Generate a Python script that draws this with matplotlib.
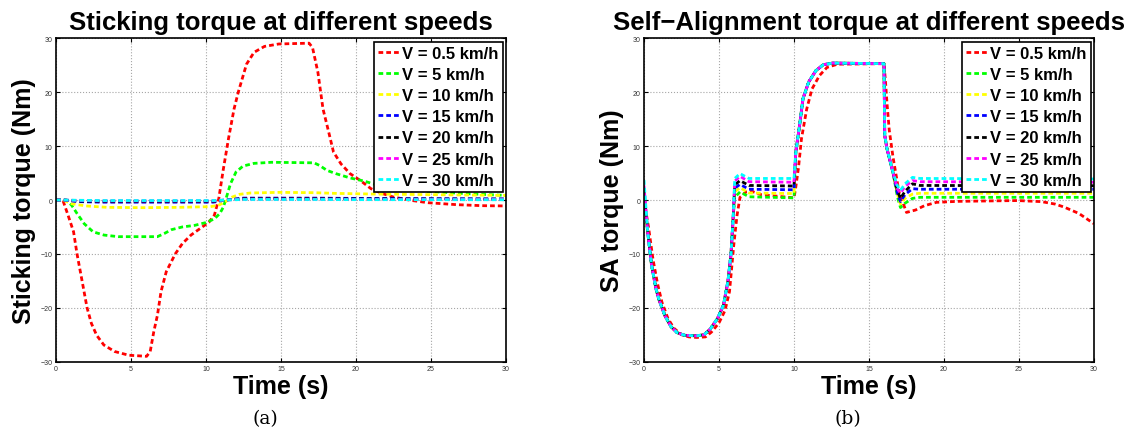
import numpy as np
import matplotlib.pyplot as plt

plt.rcParams['font.family'] = ['Liberation Sans', 'DejaVu Sans']

labels = ['V = 0.5 km/h', 'V = 5 km/h', 'V = 10 km/h', 'V = 15 km/h',
          'V = 20 km/h', 'V = 25 km/h', 'V = 30 km/h']
colors = ['#ff0000', '#00ff00', '#ffff00', '#0000ff', '#000000', '#ff00ff', '#00ffff']

# ---- (a) sticking torque ----
t_st_red = [0, 0.45, 0.8, 1.17, 1.4, 1.71, 2.07, 2.36, 2.71, 3.19, 3.9, 4.85, 6.04, 6.28,
            6.52, 6.76, 7.0, 7.35, 7.95, 8.42, 9.0, 9.6, 10.2, 10.56, 10.85, 11.16, 11.5,
            11.87, 12.15, 12.7, 13.2, 13.9, 14.85, 16.87, 17.1, 17.46, 17.8, 18.18, 18.5,
            19.0, 19.6, 20.3, 21.0, 21.75, 22.5, 23.65, 24.8, 26.7, 28.4, 30]
st_red = [0, 0, -2.8, -5.9, -10, -14.6, -20, -22.9, -25.1, -26.9, -28.1, -28.8, -29.0, -28.1,
          -24.4, -21.4, -17, -13.3, -10, -8.1, -6.5, -5.3, -4.1, -2.8, 0.25, 5.8, 11.4,
          16.9, 20.0, 25.2, 27.4, 28.5, 28.95, 29.1, 28.3, 23.7, 16.9, 12.6, 8.9,
          6.7, 4.9, 3.6, 2.1, 1.2, 0.55, -0.06, -0.5, -0.86, -1.05, -1.1]

t_st_green = [0, 0.7, 1.05, 1.4, 1.88, 2.47, 3.19, 4.14, 6.76, 7.23, 7.7, 8.42, 9.25, 9.97,
              10.56, 10.92, 11.16, 11.4, 11.63, 12.0, 12.47, 13.2, 14.37, 17.2, 17.58, 18.06,
              18.65, 19.6, 20.56, 21.5, 22.9, 24.84, 27.2, 30]
st_green = [0, 0, -1.0, -2.5, -4.4, -5.9, -6.5, -6.8, -6.8, -6.2, -5.5, -5.0, -4.7, -4.2,
            -3.5, -2.5, -1.3, 0.86, 3.0, 5.2, 6.3, 6.8, 7.0, 6.9, 6.4, 5.5,
            4.9, 4.1, 3.5, 2.7, 2.1, 1.6, 1.2, 0.86]

t_st_yellow = [0, 0.45, 1.05, 2.0, 3.4, 5.8, 8.2, 10.3, 10.8, 11.28, 11.75, 12.23, 12.94,
               14.85, 17.2, 18.65, 21.3, 24.84, 30]
st_yellow = [0, 0, -0.7, -1.1, -1.36, -1.42, -1.36, -1.23, -1.0, -0.37, 0.55, 1.05, 1.3,
             1.42, 1.36, 1.23, 1.1, 1.0, 0.86]

t_st_small = [0, 0.5, 1.5, 3, 10.5, 11.3, 12.5, 17, 20, 30]
st_blue = [0, 0, -0.3, -0.4, -0.4, 0, 0.35, 0.35, 0.3, 0.2]
st_black = [0, 0, -0.2, -0.25, -0.25, 0, 0.25, 0.25, 0.2, 0.15]
st_magenta = [0, 0, -0.1, -0.15, -0.15, 0, 0.15, 0.15, 0.12, 0.1]
st_cyan = [0, 0, -0.05, -0.1, -0.1, 0, 0.1, 0.1, 0.07, 0.05]

sticking = [(t_st_red, st_red), (t_st_green, st_green), (t_st_yellow, st_yellow),
            (t_st_small, st_blue), (t_st_small, st_black), (t_st_small, st_magenta),
            (t_st_small, st_cyan)]

# ---- (b) self-alignment torque ----
t_sa_red = [0, 0.3, 0.6, 0.9, 1.2, 1.6, 2.0, 2.5, 3.0, 3.5, 4.1, 4.5, 5.0, 5.4, 5.7, 5.98,
            6.2, 6.4, 6.8, 7.2, 7.8, 10.0, 10.1, 10.3, 10.5, 10.85, 11.2, 11.7, 12.2, 12.9,
            16.0, 16.1, 16.2, 16.35, 16.6, 17.0, 17.5, 18.1, 18.7, 19.5, 20.9, 24.9, 26.5,
            27.4, 28.0, 29.0, 30]
sa_red = [0, -5, -11, -15.5, -19, -22, -23.8, -25.0, -25.4, -25.5, -25.4, -24.5, -22.8,
          -20.5, -17, -8.5, -2.9, 0.5, 1.5, 1.6, 1.0, 0.4, 2.0, 6.0, 11.4, 16.9, 20.6, 23.1,
          24.6, 25.2, 25.3, 22, 18, 13, 8, 1.5, -2.3, -1.86, -1.05, -0.43, -0.25, -0.1,
          -0.3, -0.75, -1.3, -2.5, -4.4]

t_sa = [0, 0.25, 0.5, 0.8, 1.0, 1.4, 1.8, 2.2, 2.7, 3.5, 4.0, 4.4, 4.9, 5.3, 5.6, 5.8, 5.95,
        6.05, 6.4, 7.0, 10.0, 10.12, 10.37, 10.6, 10.98, 11.46, 11.95, 12.56, 16.0, 16.05,
        16.2, 16.6, 16.9, 17.1, 17.4, 17.9, 18.4, 30]
sa_dive = [-6, -12, -16.5, -18.5, -21.5, -23.5, -24.6, -25.1, -25.2, -25.0, -24.0, -22.0,
           -19.5, -15.0, -10.0, -3.0]
sa_rise = [8.9, 13.8, 18.8, 21.9, 24.0, 25.1, 25.4, 25.3, 12.0, 9.5, 5.1]
sa_green = [-0.5] + sa_dive + [0.5, 1.5, 0.6, 0.4] + sa_rise + [0.5, -1.4, -0.6, 0.3, 0.5, 0.5]
sa_yellow = [0.3] + sa_dive + [1.5, 2.3, 1.3, 1.2] + sa_rise + [1.0, -0.75, 0.3, 1.1, 1.25, 1.25]
sa_blue = [1.0] + sa_dive + [2.2, 2.9, 2.0, 1.9] + sa_rise + [1.2, -0.3, 1.0, 2.1, 2.0, 2.0]
sa_black = [1.8] + sa_dive + [2.8, 3.6, 2.7, 2.6] + sa_rise + [1.6, 0.3, 1.6, 3.0, 2.7, 2.65]
sa_magenta = [2.7] + sa_dive + [3.5, 4.4, 3.4, 3.3] + sa_rise + [2.0, 1.3, 2.5, 3.6, 3.4, 3.3]
sa_cyan = [3.7] + sa_dive + [4.0, 4.9, 4.0, 4.0] + sa_rise + [2.6, 1.8, 3.0, 4.2, 4.0, 3.9]

aligning = [(t_sa_red, sa_red), (t_sa, sa_green), (t_sa, sa_yellow), (t_sa, sa_blue),
            (t_sa, sa_black), (t_sa, sa_magenta), (t_sa, sa_cyan)]

fig = plt.figure(figsize=(11.34, 4.35), dpi=100)
ax1 = fig.add_axes([0.0494, 0.1662, 0.3968, 0.7434])
ax2 = fig.add_axes([0.5679, 0.1662, 0.3968, 0.7434])

panels = [
    (ax1, sticking, 'Sticking torque at different speeds', 'Sticking torque (Nm)'),
    (ax2, aligning, 'Self\u2212Alignment torque at different speeds', 'SA torque (Nm)'),
]

for ax, series, title, ylab in panels:
    for (t, v), c, lab in zip(series, colors, labels):
        ax.plot(t, v, color=c, lw=2.0, ls=(0, (1.7, 1.1)), label=lab)
    ax.set_xlim(0, 30)
    ax.set_ylim(-30, 30)
    ax.set_xticks(np.arange(0, 31, 5))
    ax.set_yticks(np.arange(-30, 31, 10))
    ax.grid(True, ls=':', color='0.65', lw=0.8)
    ax.tick_params(direction='in', length=3, width=0.8, top=True, right=True,
                   labelsize=5, labelcolor='#333333', pad=2.5)
    for sp in ax.spines.values():
        sp.set_linewidth(1.2)
    ax.set_title(title, fontsize=18.5, fontweight='bold', pad=7)
    ax.set_xlabel('Time (s)', fontsize=18, fontweight='bold', labelpad=1)
    ax.set_ylabel(ylab, fontsize=18, fontweight='bold', labelpad=3)
    leg = ax.legend(loc='upper right', prop={'weight': 'bold', 'size': 12},
                    handlelength=1.26, handletextpad=0.2, labelspacing=0.37,
                    borderpad=0.25, borderaxespad=0.2, fancybox=False, framealpha=1)
    leg.get_frame().set_edgecolor('black')
    leg.get_frame().set_linewidth(1.2)

fig.text(0.2337, 0.037, '(a)', fontsize=13.5, family='DejaVu Serif', ha='center', va='center')
fig.text(0.7474, 0.037, '(b)', fontsize=13.5, family='DejaVu Serif', ha='center', va='center')

fig.savefig('out.png', dpi=100)
